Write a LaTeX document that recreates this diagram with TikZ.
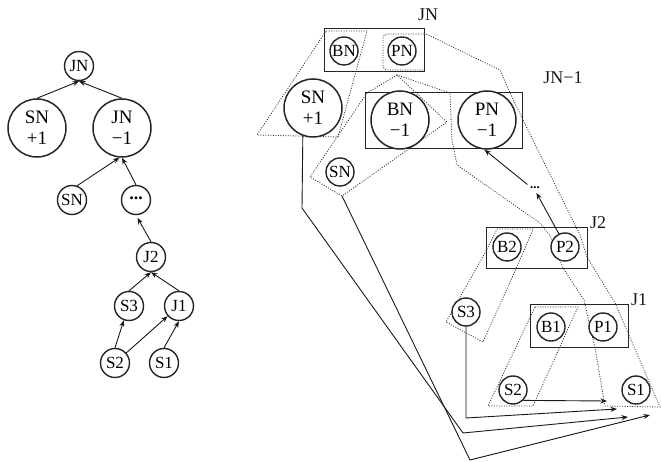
\documentclass[tikz,border=0pt]{standalone}
\usepackage{fontspec}
\setmainfont{Liberation Serif}
\usetikzlibrary{arrows.meta}
\begin{document}
\begin{tikzpicture}[x=1pt,y=-1pt,
  bigc/.style={circle, draw=black!85, fill=white, line width=1.5pt, minimum size=58pt, inner sep=0pt, align=center, font=\fontsize{19}{21}\selectfont},
  smallc/.style={circle, draw=black!85, fill=white, line width=1.4pt, minimum size=29pt, inner sep=0pt, font=\fontsize{17}{17}\selectfont},
  jbox/.style={draw=black!85, line width=1pt, inner sep=0pt},
  lbl/.style={font=\fontsize{18}{18}\selectfont, inner sep=0pt, text=black!90},
  arr/.style={draw=black!90, line width=0.9pt, -{Stealth[length=6.5pt,width=5pt]}},
  dots/.style={draw=black!80, line width=0.8pt, dash pattern=on 1pt off 1.5pt}
]
\useasboundingbox[fill=white] (0,0) rectangle (662,462);

% ---------------- left tree ----------------
\node[smallc] (lJN) at (79,66) {JN};
\node[bigc] (lSN1) at (37,128) {SN\\+1};
\node[bigc] (lJNm) at (122,128) {JN\\−1};
\node[smallc] (lSN) at (72,200) {SN};
\node[smallc] (ldots) at (136,200) {\fontsize{18}{18}\selectfont\textbf{\raisebox{0.22em}{...}}};
\node[smallc] (lJ2) at (151,257) {J2};
\node[smallc] (lS3) at (129,306) {S3};
\node[smallc] (lJ1) at (179,306) {J1};
\node[smallc] (lS2) at (115,363) {S2};
\node[smallc] (lS1) at (164,363) {S1};

\draw[arr] (lSN1.north) -- (lJN.south);
\draw[arr] (lJNm.north) -- (lJN.south);
\draw[arr] (lSN.70) -- (lJNm.265);
\draw[arr] (ldots.north) -- (lJNm.south);
\draw[arr, shorten >=3pt] (lJ2.north) -- (ldots.south);
\draw[arr] (lS3.north) -- (lJ2.south);
\draw[arr] (lJ1.north) -- (lJ2.south);
\draw[arr] (lS2.north) -- (lS3.250);
\draw[arr] (lS2) -- (lJ1);
\draw[arr] (lS1.north) -- (lJ1.south);

% ---------------- right structure: dotted enclosures ----------------
\coordinate (kB) at (342,196);
\draw[dots] (326,31) -- (367,31) -- (338,137) -- (257,135) -- cycle;
\draw[dots, rounded corners=4pt] (424,34) -- (383,34) -- (383,70) -- (424,70);
\draw[dots] (397,75) -- (367,93) -- (310,177) -- (kB) -- (447,122) -- cycle;
\draw[dots] (424,33) -- (500,70) -- (510,93) -- (523,120) -- (580,235) -- (587,257)
  -- (615,303) -- (660,407) -- (605,406) -- (595,348) -- (584,300) -- (563,268)
  -- (551,237) -- (540,223) -- (457,165) -- (452,140) -- (450,93) -- (397,75);
\draw[dots] (497,229) -- (533,229) -- (520,260) -- (483,342) -- (446,322) -- (485,253) -- cycle;
\draw[dots] (535,307) -- (578,307) -- (533,406) -- (488,406) -- cycle;

% ---------------- right structure: boxes and nodes ----------------
\node[jbox, minimum width=100pt, minimum height=43pt] (rJN) at (374,50.5) {};
\node[lbl] (tJN) at (428,15) {JN};
\node[smallc, minimum size=28pt] (rBN) at (344,51) {BN};
\node[smallc, minimum size=28pt] (rPN) at (402,51) {PN};
\node[bigc] (rSN1) at (313,108) {SN\\+1};
\node[jbox, minimum width=157pt, minimum height=56pt] (rJNm) at (443.5,121) {};
\node[bigc] (rBNm) at (400,120) {BN\\−1};
\node[bigc] (rPNm) at (487,120) {PN\\−1};
\node[lbl] (tJNm) at (563,78) {JN−1};
\node[smallc, minimum size=28pt] (rSN) at (340,172) {SN};
\node[inner sep=1pt, font=\bfseries\fontsize{13}{13}\selectfont] (rdots) at (535,188) {...};
\node[jbox, minimum width=101pt, minimum height=41pt] (rJ2) at (536.5,248.5) {};
\node[smallc, minimum size=28pt] (rB2) at (507,247) {B2};
\node[smallc, minimum size=28pt] (rP2) at (565,247) {P2};
\node[lbl] (tJ2) at (598,223) {J2};
\node[smallc, minimum size=28pt] (rS3) at (466,312) {S3};
\node[jbox, minimum width=98pt, minimum height=43pt] (rJ1) at (579,326.5) {};
\node[smallc, minimum size=28pt] (rB1) at (551,327) {B1};
\node[smallc, minimum size=28pt] (rP1) at (603,327) {P1};
\node[lbl] (tJ1) at (639,300) {J1};
\node[smallc, minimum size=28pt] (rS2) at (513,390) {S2};
\node[smallc, minimum size=28pt] (rS1) at (636,390) {S1};

% ---------------- right structure: solid connectors ----------------
\coordinate (tS2) at (607,401);
\coordinate (cS3) at (466,418);
\coordinate (tS3) at (617,409);
\coordinate (cSN1a) at (302,208);
\coordinate (cSN1b) at (463,433);
\coordinate (tSN1) at (628,417);
\coordinate (cSN) at (470,460);
\coordinate (tSN) at (650,415);

\draw[arr, shorten <=2pt] (rdots.north west) -- (rPNm.265);
\draw[arr, shorten >=3pt] (rP2.115) -- (rdots.south);
\draw[arr] (rS2.south east) -- (tS2);
\draw[arr] (rS3.south) -- (cS3) -- (tS3);
\draw[arr] (rSN1.250) -- (cSN1a) -- (cSN1b) -- (tSN1);
\draw[arr] (kB) -- (cSN) -- (tSN);
\end{tikzpicture}
\end{document}
